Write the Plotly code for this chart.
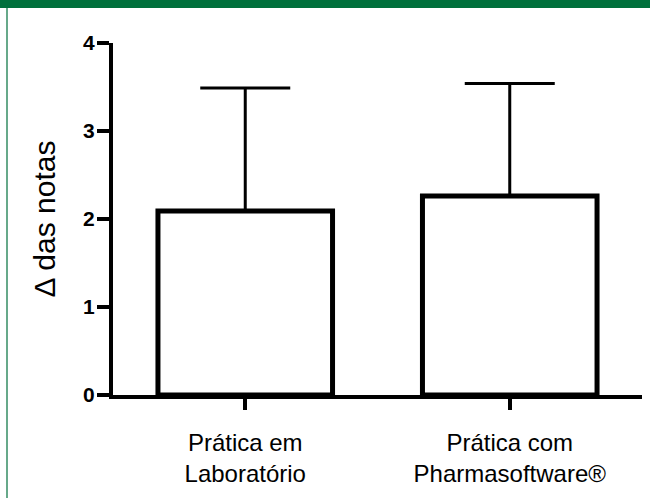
import plotly.graph_objects as go

# Grupos comparados e variação média das notas (± desvio padrão, apenas superior)
grupos = ["Prática em<br>Laboratório", "Prática com<br>Pharmasoftware®"]
media_delta = [2.09, 2.26]
desvio_padrao = [1.40, 1.28]
y_ticks = [0, 1, 2, 3, 4]

W, H = 650, 498
ML, MR, MT, MB = 113, 8, 43, 103
PW, PH = W - ML - MR, H - MT - MB

GREEN = "#00703C"
FONT = "Liberation Sans, Arial, sans-serif"

fig = go.Figure(
    go.Bar(
        x=[0, 1],
        y=media_delta,
        width=0.66,
        marker=dict(color="white", line=dict(color="black", width=5)),
        error_y=dict(
            type="data",
            array=desvio_padrao,
            arrayminus=[0, 0],
            symmetric=False,
            color="black",
            thickness=3,
            width=45,
        ),
        hoverinfo="skip",
    )
)


def px_x(px):
    return (px - ML) / PW


def px_y(py):
    return (H - MB - py) / PH


# faixa verde superior e filete lateral da moldura
fig.add_shape(type="rect", xref="paper", yref="paper",
              x0=px_x(0), x1=px_x(W), y0=px_y(8), y1=px_y(0),
              fillcolor=GREEN, line=dict(width=0), layer="above")
fig.add_shape(type="line", xref="paper", yref="paper",
              x0=px_x(7), x1=px_x(7), y0=px_y(8), y1=px_y(H),
              line=dict(color=GREEN, width=1.2), layer="above")

fig.update_layout(
    width=W,
    height=H,
    margin=dict(l=ML, r=MR, t=MT, b=MB, pad=0),
    paper_bgcolor="white",
    plot_bgcolor="white",
    showlegend=False,
    font=dict(family=FONT, color="black"),
)

fig.update_xaxes(
    range=[-0.5, 1.5],
    tickmode="array",
    tickvals=[0, 1],
    ticktext=grupos,
    showline=True,
    linecolor="black",
    linewidth=4,
    ticks="outside",
    ticklen=11,
    tickwidth=4,
    tickcolor="black",
    tickfont=dict(size=24, family=FONT),
    ticklabelstandoff=12,
    showgrid=False,
    zeroline=False,
    fixedrange=True,
)

fig.update_yaxes(
    range=[0, 4],
    tickmode="array",
    tickvals=y_ticks,
    ticktext=[f"<b>{v}</b>" for v in y_ticks],
    showline=True,
    linecolor="black",
    linewidth=4,
    ticks="outside",
    ticklen=12,
    tickwidth=4,
    tickcolor="black",
    tickfont=dict(size=21, family=FONT),
    ticklabelstandoff=-2,
    title=dict(text="Δ das notas", font=dict(size=30, family=FONT), standoff=20),
    showgrid=False,
    zeroline=False,
    fixedrange=True,
)

fig.write_html("out.html", config={"displayModeBar": False})
